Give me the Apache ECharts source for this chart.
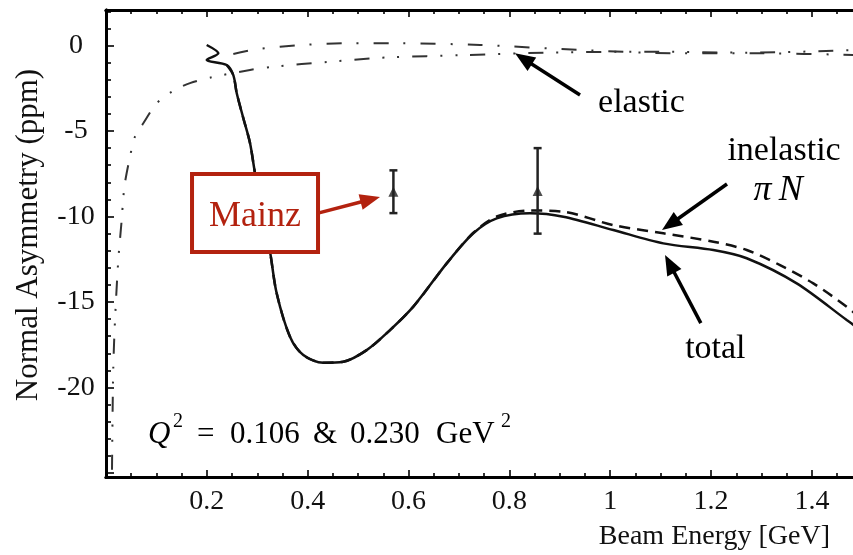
<!DOCTYPE html>
<html><head><meta charset="utf-8">
<script src="https://cdn.jsdelivr.net/npm/echarts@6/dist/echarts.min.js"></script>
<style>html,body{margin:0;padding:0;background:#fff}#c{width:853px;height:555px}</style>
</head><body><div id="c"></div>
<script>
// ---------- data ----------
const xTickLabels = [0.2, 0.4, 0.6, 0.8, 1, 1.2, 1.4];
const yTickLabels = [0, -5, -10, -15, -20];

// total asymmetry (solid)
const totalE = [0.1997,0.2228,0.1997,0.2394,0.2525,0.2592,0.2717,0.2856,0.2955,0.3253,0.3385,0.3649,0.3913,0.431,0.4707,0.517,0.5633,0.6095,0.6757,0.7285,0.7749,0.8409,0.907,1.0061,1.1053,1.2045,1.2707,1.3699,1.469,1.49];
const totalA = [0.03,-0.46,-0.85,-1.14,-1.73,-2.78,-4.18,-5.70,-7.46,-12.06,-14.49,-17.03,-18.10,-18.55,-18.49,-17.81,-16.64,-15.27,-12.74,-10.98,-10.11,-9.81,-10.01,-10.79,-11.57,-11.96,-12.44,-13.91,-16.05,-16.5];

// inelastic piN (dashed)
const inelE = [0.2394,0.2525,0.2592,0.2717,0.2856,0.2955,0.3253,0.3385,0.3649,0.3913,0.431,0.4707,0.517,0.5633,0.6095,0.6757,0.7285,0.7749,0.8409,0.907,1.0061,1.1053,1.2045,1.2707,1.3368,1.4028,1.469,1.49];
const inelA = [-1.14,-1.73,-2.78,-4.18,-5.70,-7.46,-12.06,-14.49,-17.03,-18.10,-18.55,-18.49,-17.81,-16.64,-15.27,-12.74,-10.95,-10.0,-9.65,-9.72,-10.5,-10.98,-11.47,-11.96,-12.84,-13.91,-15.27,-15.8];

// elastic, lower branch (dash-dot-dot)
const elasAE = [0.0119,0.0129,0.0145,0.0179,0.0244,0.0311,0.0343,0.0377,0.0476,0.0575,0.074,0.1005,0.1335,0.1666,0.2096,0.2856,0.3318,0.4443,0.530,0.5633,0.7087,0.874,1.0724,1.2707,1.49];
const elasAA = [-24.8,-21.9,-18.78,-16.05,-12.54,-10.2,-8.9,-8.0,-6.5,-5.33,-4.55,-3.38,-2.65,-2.2,-1.86,-1.43,-1.24,-0.95,-0.75,-0.69,-0.56,-0.42,-0.36,-0.42,-0.26];

// elastic, upper branch (dash-dot)
const elasBE = [0.2525,0.2989,0.3913,0.4839,0.5765,0.7418,0.9401,1.1384,1.303,1.49];
const elasBA = [-0.5,-0.22,0.03,0.13,0.13,0.03,-0.26,-0.46,-0.46,-0.56];

// Mainz data
const mainzE = [0.570, 0.856];
const mainzA = [-8.55, -8.5];
const mainzErr = [1.25, 2.5];

// ---------- chart ----------
const FONT = 'Liberation Serif';
const XMIN = 0, XMAX = 1.4815, YMIN = -25.23, YMAX = 2.076;
const xMajor = [0, 0.2, 0.4, 0.6, 0.8, 1, 1.2, 1.4];
const xMinor = []; for (let i = 1; i * 0.05 < XMAX; i++) if (i % 4) xMinor.push(+(i * 0.05).toFixed(2));
const yMajor = [0, -5, -10, -15, -20, -25];
const yMinor = []; for (let v = 2; v >= -25; v--) if (v % 5) yMinor.push(v);

const pairs = (a, b) => a.map((v, i) => [v, b[i]]);

function xAx(pos, ticks, len, labels) {
  return {
    type: 'value', position: pos, min: XMIN, max: XMAX,
    axisLine: { show: true, onZero: false, lineStyle: { color: '#000', width: 3 } },
    axisTick: { show: true, inside: true, length: len, customValues: ticks, lineStyle: { color: '#000', width: 1.6 } },
    axisLabel: labels ? { show: true, customValues: labels, fontFamily: FONT, fontSize: 28, color: '#111', margin: 25, verticalAlign: 'middle' } : { show: false },
    splitLine: { show: false }
  };
}
function yAx(ticks, len, labels) {
  return {
    type: 'value', position: 'left', min: YMIN, max: YMAX,
    axisLine: { show: true, onZero: false, lineStyle: { color: '#000', width: 3 } },
    axisTick: { show: true, inside: true, length: len, customValues: ticks, lineStyle: { color: '#000', width: 1.6 } },
    axisLabel: labels ? { show: true, customValues: labels, fontFamily: FONT, fontSize: 28, color: '#111', margin: 30, align: 'center' } : { show: false },
    splitLine: { show: false }
  };
}

const chart = echarts.init(document.getElementById('c'), null, { renderer: 'canvas' });
chart.setOption({
  animation: false,
  backgroundColor: '#fff',
  grid: { left: 106, right: 0, top: 10, bottom: 78, containLabel: false, outerBoundsMode: 'none' },
  xAxis: [
    xAx('bottom', xMajor, 7, xTickLabels),
    xAx('bottom', xMinor, 4, null),
    xAx('top', xMajor, 7, null),
    xAx('top', xMinor, 4, null)
  ],
  yAxis: [
    yAx(yMajor, 8, yTickLabels),
    yAx(yMinor, 5, null)
  ],
  series: [
    { type: 'line', name: 'elastic A', data: pairs(elasAE, elasAA), showSymbol: false, smooth: 0.3,
      lineStyle: { color: '#333', width: 2, type: [15, 13, 2, 13, 2, 13] }, z: 2 },
    { type: 'line', name: 'elastic B', data: pairs(elasBE, elasBA), showSymbol: false, smooth: 0.3,
      lineStyle: { color: '#333', width: 2, type: [15, 15, 2, 15] }, z: 2 },
    { type: 'line', name: 'inelastic', data: pairs(inelE, inelA), showSymbol: false, smooth: 0.3,
      lineStyle: { color: '#111', width: 2.5, type: [11, 7] }, z: 3 },
    { type: 'line', name: 'total', data: pairs(totalE, totalA), showSymbol: false, smooth: 0.3,
      lineStyle: { color: '#111', width: 2.5 }, z: 4 },
    { type: 'custom', name: 'Mainz err',
      data: mainzE.map((e, i) => [e, mainzA[i], mainzA[i] - mainzErr[i], mainzA[i] + mainzErr[i]]),
      renderItem: (params, api) => {
        const pl = api.coord([api.value(0), api.value(2)]);
        const ph = api.coord([api.value(0), api.value(3)]);
        const st = { stroke: '#222', lineWidth: 2.5 };
        return { type: 'group', children: [
          { type: 'line', shape: { x1: pl[0], y1: pl[1], x2: ph[0], y2: ph[1] }, style: st },
          { type: 'line', shape: { x1: pl[0] - 4, y1: pl[1], x2: pl[0] + 4, y2: pl[1] }, style: st },
          { type: 'line', shape: { x1: ph[0] - 4, y1: ph[1], x2: ph[0] + 4, y2: ph[1] }, style: st }
        ]};
      }, z: 5 },
    { type: 'scatter', name: 'Mainz', data: pairs(mainzE, mainzA), symbol: 'triangle', symbolSize: 10,
      itemStyle: { color: '#222' }, z: 6 }
  ]
});

// ---------- annotations (anchored in data coordinates) ----------
const px = p => chart.convertToPixel({ xAxisIndex: 0, yAxisIndex: 0 }, p);
function arrow(from, to, color, w, hl, hw) {
  const p0 = px(from), p1 = px(to);
  const dx = p1[0] - p0[0], dy = p1[1] - p0[1], L = Math.hypot(dx, dy);
  const ux = dx / L, uy = dy / L, nx = -uy, ny = ux;
  const bx = p1[0] - ux * hl, by = p1[1] - uy * hl;
  return [
    { type: 'line', z: 120, shape: { x1: p0[0], y1: p0[1], x2: bx + ux * 3, y2: by + uy * 3 }, style: { stroke: color, lineWidth: w } },
    { type: 'polygon', z: 120, shape: { points: [[p1[0], p1[1]], [bx + nx * hw / 2, by + ny * hw / 2], [bx - nx * hw / 2, by - ny * hw / 2]] }, style: { fill: color } }
  ];
}
function txt(at, s, size, opts) {
  const p = px(at);
  return Object.assign({ type: 'text', z: 120, x: p[0], y: p[1],
    style: Object.assign({ text: s, fontFamily: FONT, fontSize: size, fill: '#000', align: 'center', verticalAlign: 'middle' }, opts || {}) });
}
const RED = '#B3220F';
const b0 = px([0.1706, -7.51]), b1 = px([0.4205, -12.08]);
const g = [];
g.push({ type: 'rect', z: 110, shape: { x: b0[0], y: b0[1], width: b1[0] - b0[0], height: b1[1] - b0[1] },
  style: { fill: '#fff', stroke: RED, lineWidth: 4 } });
g.push(txt([(0.1706 + 0.4205) / 2, -9.98], 'Mainz', 36, { fill: RED }));
g.push(...arrow([0.4205, -9.8], [0.5434, -8.86], RED, 3.5, 20, 16));
g.push(...arrow([0.9401, -2.89], [0.8112, -0.46], '#000', 3.5, 20, 16));
g.push(txt([1.062, -3.34], 'elastic', 34));
g.push(txt([1.3447, -6.18], 'inelastic', 34));
g.push(txt([1.3328, -8.5], 'π\u2009N', 36, { fontStyle: 'italic' }));
g.push(...arrow([1.2316, -8.10], [1.1027, -10.79], '#000', 3.5, 20, 16));
g.push(txt([1.2085, -17.77], 'total', 34));
g.push(...arrow([1.1797, -16.23], [1.1087, -12.25], '#000', 3.5, 20, 16));

// Q^2 label pieces
const qy = -22.78, qsy = -22.0;
g.push(txt([0.0833, qy], 'Q', 31, { fontStyle: 'italic', align: 'left' }));
g.push(txt([0.1329, qsy], '2', 20, { align: 'left' }));
g.push(txt([0.1804, qy], '=', 31, { align: 'left' }));
g.push(txt([0.2460, qy], '0.106', 31, { align: 'left' }));
g.push(txt([0.4105, qy], '&', 31, { align: 'left' }));
g.push(txt([0.4840, qy], '0.230', 31, { align: 'left' }));
g.push(txt([0.6545, qy], 'GeV', 31, { align: 'left' }));
g.push(txt([0.7834, qsy], '2', 20, { align: 'left' }));

// axis titles
g.push({ type: 'text', z: 120, x: 830, y: 537, style: { text: 'Beam Energy [GeV]', fontFamily: FONT, fontSize: 28, fill: '#111', align: 'right', verticalAlign: 'middle' } });
g.push({ type: 'text', z: 120, x: 29, y: 235, rotation: Math.PI / 2, style: { text: 'Normal Asymmetry (ppm)', fontFamily: FONT, fontSize: 31, fill: '#111', align: 'center', verticalAlign: 'middle' } });

chart.setOption({ graphic: { elements: g } });
</script></body></html>
